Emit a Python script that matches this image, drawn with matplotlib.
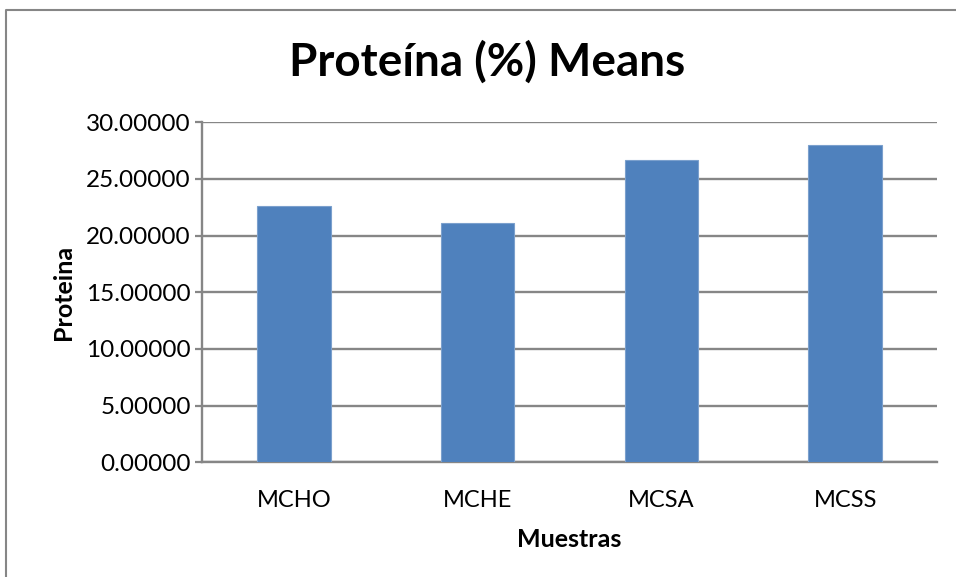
import matplotlib
matplotlib.use("Agg")
import matplotlib.pyplot as plt
from matplotlib.lines import Line2D

categories = ["MCHO", "MCHE", "MCSA", "MCSS"]
means = [22.62, 21.15, 26.68, 27.98]
yticks = [0, 5, 10, 15, 20, 25, 30]

W, H = 956, 577
fig = plt.figure(figsize=(W / 100, H / 100), dpi=100)
plt.rcParams['font.family'] = ['Lato', 'DejaVu Sans']

ax = fig.add_axes([202 / W, 1 - 462.3 / H, (937 - 202) / W, (462.3 - 122.3) / H])

grey = "#868686"
x = range(len(categories))
ax.bar(x, means, width=0.4, color="#4F81BD", edgecolor="#7BA0CD", linewidth=0.8, zorder=3)

ax.set_xlim(-0.5, len(categories) - 0.5)
ax.set_ylim(0, 30)
ax.set_yticks(yticks)
ax.set_yticklabels([f"{v:.5f}" for v in yticks], fontsize=17.5)
ax.set_xticks(list(x))
ax.set_xticklabels(categories, fontsize=17)

ax.yaxis.grid(True, color=grey, linewidth=1.7, zorder=0)
ax.set_axisbelow(True)
for side in ("top", "right"):
    ax.spines[side].set_visible(False)
for side in ("left", "bottom"):
    ax.spines[side].set_color(grey)
    ax.spines[side].set_linewidth(1.7)

ax.tick_params(axis="y", length=5, width=1.6, color=grey, pad=3)
ax.tick_params(axis="x", length=0, pad=20)

ax.set_xlabel("Muestras", fontsize=18, fontweight="bold", labelpad=12)
ax.set_ylabel("Proteina", fontsize=18, fontweight="bold", labelpad=8)

fig.text(487 / W, 1 - 62 / H, "Proteína (%) Means", fontsize=33, fontweight="bold",
         ha="center", va="center")

# chart-area border (left and top edges)
fig.add_artist(Line2D([6 / W, 6 / W, 1.0], [0.0, 1 - 10 / H, 1 - 10 / H],
                      transform=fig.transFigure, color=grey, linewidth=1.5))

fig.savefig("out.png", dpi=100)
